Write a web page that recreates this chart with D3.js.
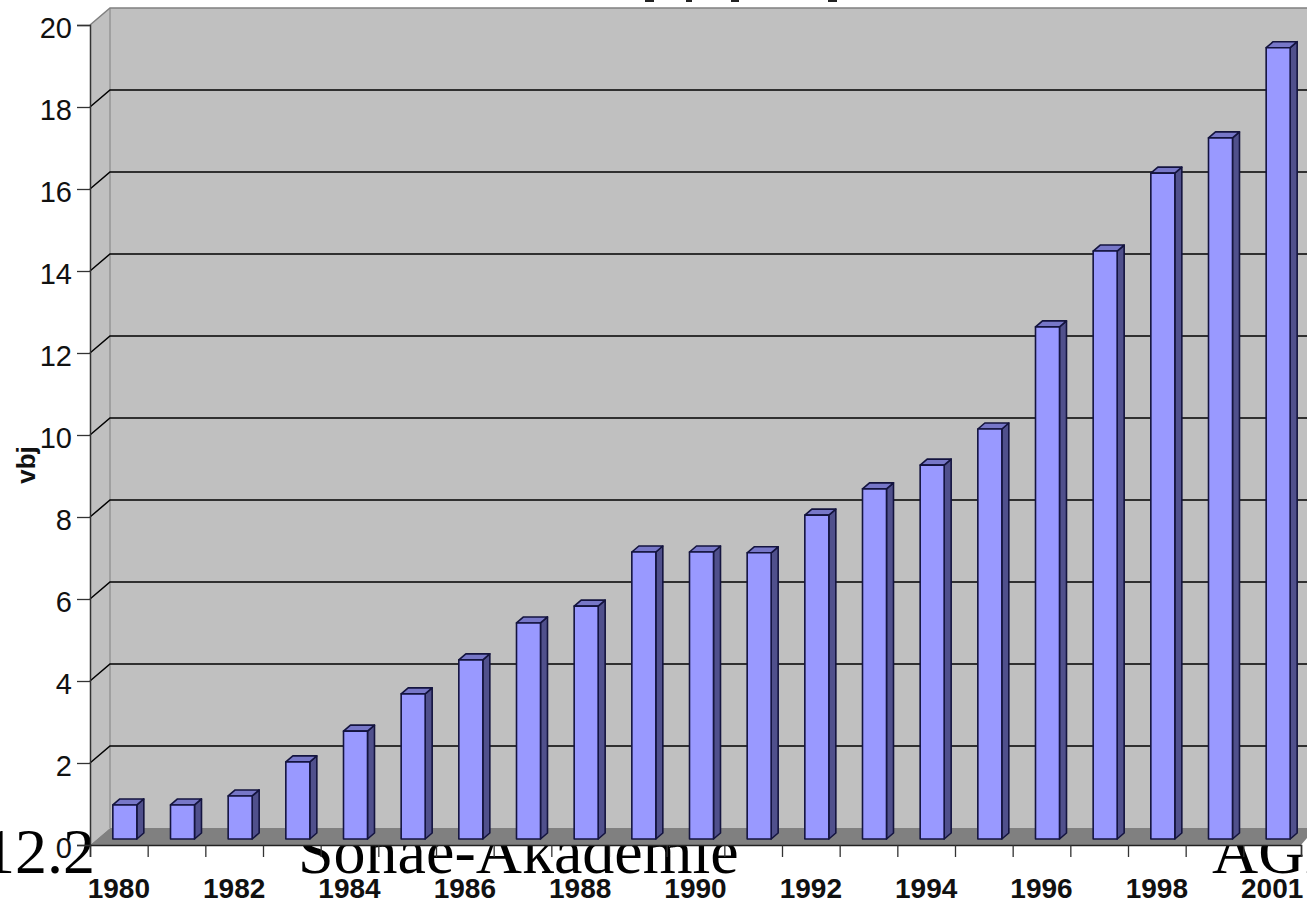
<!DOCTYPE html>
<html>
<head>
<meta charset="utf-8">
<script src="https://d3js.org/d3.v7.min.js"></script>
<style>
  html, body { margin: 0; padding: 0; background: #fff; overflow: hidden; }
  svg { display: block; }
</style>
</head>
<body>
<div id="chart"></div>
<script>
var svgWidth = 1307;
var svgHeight = 902;

// values (there is no 2000 bar, axis jumps 1999 -> 2001)
var years = [1980, 1981, 1982, 1983, 1984, 1985, 1986, 1987, 1988, 1989, 1990,
  1991, 1992, 1993, 1994, 1995, 1996, 1997, 1998, 1999, 2001];
var values = [0.83, 0.83, 1.05, 1.88, 2.63, 3.54, 4.37, 5.27, 5.68, 7.0, 7.0,
  6.98, 7.9, 8.54, 9.12, 10.0, 12.49, 14.34, 16.24, 17.1, 19.3];
var yTicks = [0, 2, 4, 6, 8, 10, 12, 14, 16, 18, 20];
var yearLabels = [1980, 1982, 1984, 1986, 1988, 1990, 1992, 1994, 1996, 1998, 2001];
var footerTexts = ["12.2", "Sonae-Akademie", "AGI"];
var footerX = [-17, 298, 1212];
// the title is cut off by the top edge, only the ends of its descenders show
var titleStubs = [[645, 9], [686, 6], [731, 8], [828, 9]];

// 3d offsets of the chart
var wallDx = 20, wallDy = -17;
var barDx = 6, barDy = -6;
var depthDx = 7, depthDy = -6;
var barWidth = 24;

var left = 90, right = 1301;

var x = d3.scaleBand().domain(years).range([left, right]);
var xTick = d3.scaleLinear().domain([0, years.length]).range([left, right]);
var y = d3.scaleLinear().domain([0, 20]).range([845, 25]);

var svg = d3.select("#chart")
  .append("svg")
  .attr("width", svgWidth)
  .attr("height", svgHeight)
  .style("background", "#fff");

// footer of the slide sits under the chart
svg.selectAll(".footer")
  .data(footerTexts)
  .enter()
  .append("text")
  .attr("class", "footer")
  .attr("x", (d, i) => footerX[i])
  .attr("y", 873)
  .attr("font-family", "'Liberation Serif', serif")
  .attr("font-size", 64)
  .attr("fill", "#000")
  .text(d => d);

svg.selectAll(".stub")
  .data(titleStubs)
  .enter()
  .append("rect")
  .attr("class", "stub")
  .attr("x", d => d[0])
  .attr("y", 0)
  .attr("width", d => d[1])
  .attr("height", 2)
  .attr("fill", "#222");

var y0 = y(0), yTop = y(20);
var wall = svg.append("g");

// left side wall
wall.append("path")
  .attr("d", `M${left},${y0} L${left},${yTop} L${left + wallDx},${yTop + wallDy} L${left + wallDx},${y0 + wallDy} Z`)
  .attr("fill", "#c0c0c0");

// back wall
wall.append("rect")
  .attr("x", left + wallDx)
  .attr("y", yTop + wallDy)
  .attr("width", svgWidth - left - wallDx)
  .attr("height", y0 - yTop)
  .attr("fill", "#c0c0c0");

wall.append("path")
  .attr("d", `M${left},${yTop} L${left + wallDx},${yTop + wallDy} L${svgWidth},${yTop + wallDy}`)
  .attr("fill", "none")
  .attr("stroke", "#808080")
  .attr("stroke-width", 1.5);

wall.append("line")
  .attr("x1", left + wallDx).attr("x2", left + wallDx)
  .attr("y1", yTop + wallDy).attr("y2", y0 + wallDy)
  .attr("stroke", "#808080")
  .attr("stroke-width", 1);

// floor
wall.append("path")
  .attr("d", `M${left},${y0} L${left + wallDx},${y0 + wallDy} L${svgWidth},${y0 + wallDy} L${svgWidth},${y0 - 7} L${right},${y0} Z`)
  .attr("fill", "#808080");

// grid lines, front tick bends back to the wall
wall.selectAll(".grid")
  .data(yTicks.filter(d => d > 0 && d < 20))
  .enter()
  .append("path")
  .attr("class", "grid")
  .attr("d", d => `M${left},${y(d)} L${left + wallDx},${y(d) + wallDy} L${svgWidth},${y(d) + wallDy}`)
  .attr("fill", "none")
  .attr("stroke", "#000")
  .attr("stroke-width", 1.5);

// bars
var bars = svg.selectAll(".bar")
  .data(years)
  .enter()
  .append("g")
  .attr("class", "bar")
  .attr("stroke", "#14143f")
  .attr("stroke-width", 1.6)
  .attr("stroke-linejoin", "round");

function barLeft(d) {
  return x(d) + x.bandwidth() / 2 - barWidth / 2 + barDx;
}

function barTop(d, i) {
  return y(values[i]) + barDy;
}

bars.append("path")
  .attr("fill", "#50508c")
  .attr("d", function(d, i) {
    var r = barLeft(d) + barWidth, t = barTop(d, i), b = y0 + barDy;
    return `M${r},${t} L${r + depthDx},${t + depthDy} L${r + depthDx},${b + depthDy} L${r},${b} Z`;
  });

bars.append("path")
  .attr("fill", "#7777c8")
  .attr("d", function(d, i) {
    var l = barLeft(d), t = barTop(d, i);
    return `M${l},${t} L${l + depthDx},${t + depthDy} L${l + barWidth + depthDx},${t + depthDy} L${l + barWidth},${t} Z`;
  });

bars.append("rect")
  .attr("fill", "#9999ff")
  .attr("x", d => barLeft(d))
  .attr("y", (d, i) => barTop(d, i))
  .attr("width", barWidth)
  .attr("height", (d, i) => y0 + barDy - barTop(d, i));

// y axis
var yAxis = svg.append("g")
  .attr("transform", `translate(${left}, 0)`)
  .call(d3.axisLeft(y).tickValues(yTicks).tickSize(13).tickPadding(5));

yAxis.select(".domain").attr("stroke", "#333").attr("stroke-width", 1.5);
yAxis.selectAll("line").attr("stroke", "#333").attr("stroke-width", 1.3);
yAxis.selectAll("text")
  .attr("dy", "0.44em")
  .attr("font-family", "'Liberation Sans', Arial, sans-serif")
  .attr("font-size", 29)
  .attr("fill", "#111");

// x axis: ticks between the categories
var xTicks = svg.append("g")
  .attr("transform", `translate(0, ${y0})`)
  .call(d3.axisBottom(xTick).ticks(years.length).tickSize(12).tickFormat(""));

xTicks.select(".domain").attr("stroke", "#222").attr("stroke-width", 1.5);
xTicks.selectAll("line").attr("stroke", "#333").attr("stroke-width", 1.3);

// x axis labels, every second category
var xLabels = svg.append("g")
  .attr("transform", `translate(0, ${y0})`)
  .call(d3.axisBottom(x).tickValues(yearLabels).tickSize(0).tickPadding(33));

xLabels.select(".domain").remove();
xLabels.selectAll("text")
  .attr("font-family", "'Liberation Sans', Arial, sans-serif")
  .attr("font-size", 28)
  .attr("font-weight", "bold")
  .attr("fill", "#111");

// y axis title
svg.append("text")
  .attr("transform", "translate(35, 465) rotate(-90)")
  .attr("text-anchor", "middle")
  .attr("font-family", "'Liberation Sans', Arial, sans-serif")
  .attr("font-size", 26)
  .attr("font-weight", "bold")
  .attr("fill", "#111")
  .text("vbj");
</script>
</body>
</html>
